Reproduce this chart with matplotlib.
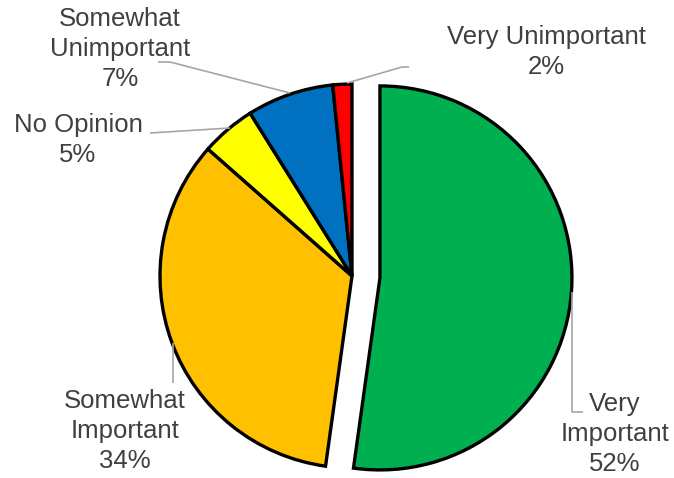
import matplotlib
matplotlib.use("Agg")
import matplotlib.pyplot as plt

# Survey shares, drawn clockwise from 12 o'clock
categories = ["Very\nImportant", "Somewhat\nImportant", "No Opinion",
              "Somewhat\nUnimportant", "Very Unimportant"]
shares = [52.2, 34.3, 4.6, 7.3, 1.6]
colors = ["#00B050", "#FFC000", "#FFFF00", "#0070C0", "#FF0000"]

W, H = 674, 478
plt.rcParams["font.family"] = ["Liberation Sans", "DejaVu Sans"]

fig = plt.figure(figsize=(W / 100, H / 100), dpi=100)
ax = fig.add_axes([0, 0, 1, 1])


def fy(y):
    # work in pixel rows measured from the top
    return H - y


radius = 192
ax.pie(shares, colors=colors, startangle=90, counterclock=False,
       center=(352, fy(276)), radius=radius,
       explode=[28, 0, 0, 0, 0],  # offset in data units (pixels here)
       wedgeprops=dict(edgecolor="black", linewidth=2.4, joinstyle="miter"),
       frame=True)
ax.set_xlim(0, W)
ax.set_ylim(0, H)
ax.set_aspect("equal")
ax.axis("off")

# label text: name + rounded share
label_pos = [(615, 434), (125, 431), (78, 140), (120, 49), (546, 52)]
for name, val, (x, y) in zip(categories, shares, label_pos):
    ax.text(x, fy(y), f"{name}\n{val:.0f}%", ha="center", va="center",
            fontsize=18.5, color="#404040", linespacing=1.3)

# leader lines
leaders = [
    [(572, 292), (572, 412), (583, 412)],
    [(173, 343), (173, 383)],
    [(230, 128), (150, 133)],
    [(290, 93), (170, 62), (158, 62)],
    [(347, 83), (402, 67), (409, 67)],
]
for pts in leaders:
    xs = [p[0] for p in pts]
    ys = [fy(p[1]) for p in pts]
    ax.plot(xs, ys, color="#A6A6A6", linewidth=1.2, solid_capstyle="butt")

fig.savefig("out.png", dpi=100)
